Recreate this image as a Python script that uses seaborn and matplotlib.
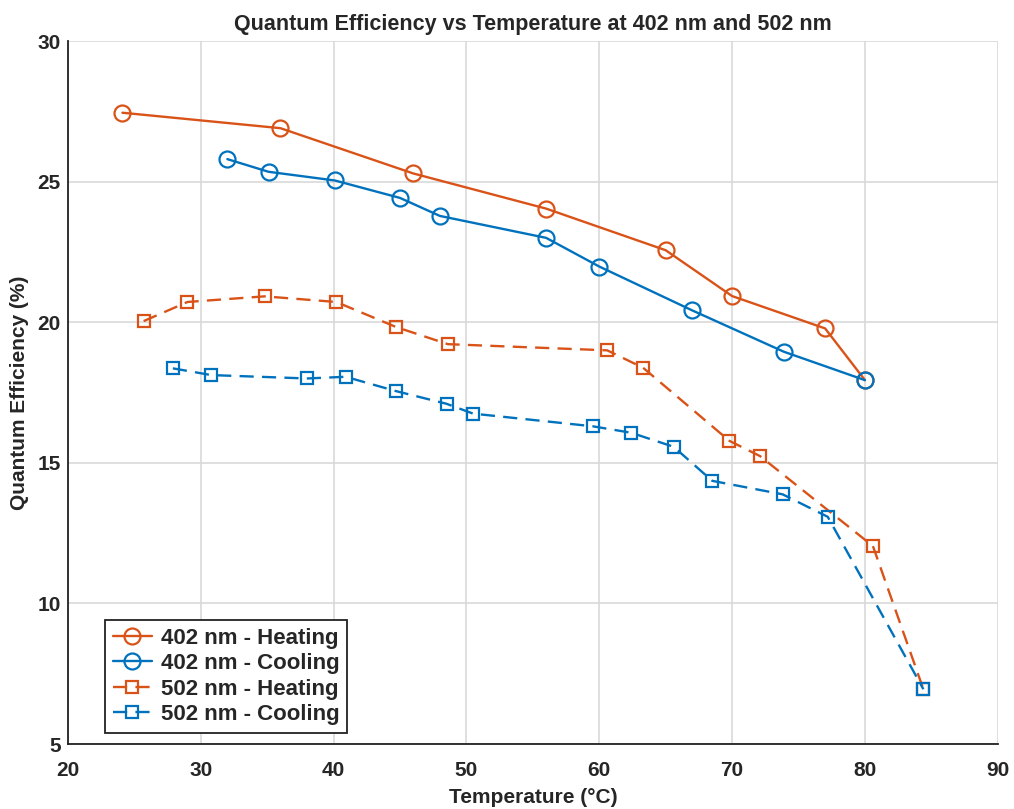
import pandas as pd
import seaborn as sns
import matplotlib.pyplot as plt

# data
temp_402_heat = [24.1, 36.0, 46.0, 56.0, 65.0, 70.0, 77.0, 80.0]
qe_402_heat = [27.45, 26.9, 25.29, 24.04, 22.56, 20.93, 19.78, 17.94]

temp_402_cool = [32.0, 35.1, 40.1, 45.0, 48.0, 56.0, 60.0, 67.0, 73.9, 80.0]
qe_402_cool = [25.8, 25.35, 25.04, 24.42, 23.78, 23.0, 21.98, 20.42, 18.95, 17.94]

temp_502_heat = [25.7, 29.0, 34.8, 40.2, 44.7, 48.6, 60.6, 63.3, 69.8, 72.1, 80.6, 84.4]
qe_502_heat = [20.04, 20.72, 20.92, 20.72, 19.83, 19.22, 19.0, 18.38, 15.78, 15.24, 12.04, 6.95]

temp_502_cool = [27.9, 30.8, 38.0, 40.9, 44.7, 48.5, 50.5, 59.5, 62.4, 65.6, 68.5, 73.8, 77.2, 84.4]
qe_502_cool = [18.36, 18.12, 18.0, 18.06, 17.55, 17.1, 16.75, 16.3, 16.07, 15.57, 14.36, 13.88, 13.08, 6.95]

series_names = ["402 nm - Heating", "402 nm - Cooling", "502 nm - Heating", "502 nm - Cooling"]
series_x = [temp_402_heat, temp_402_cool, temp_502_heat, temp_502_cool]
series_y = [qe_402_heat, qe_402_cool, qe_502_heat, qe_502_cool]

orange = "#D95319"
blue = "#0072BD"
colors = [orange, blue, orange, blue]
markers = ["o", "o", "s", "s"]
msizes = [11.5, 11.5, 9, 9]
dashed = [False, False, True, True]

sns.set_style("white")
plt.rcParams["font.family"] = ["Liberation Sans", "DejaVu Sans"]
plt.rcParams["font.weight"] = "bold"

fig = plt.figure(figsize=(10.14, 8.09), dpi=100)
ax = fig.add_axes([0.067, 0.0803, 0.917, 0.869])

for name, xs, ys, c, m, ms, d in zip(series_names, series_x, series_y, colors, markers, msizes, dashed):
    df = pd.DataFrame({"Temperature": xs, "QE": ys})
    sns.lineplot(data=df, x="Temperature", y="QE", ax=ax, color=c, marker=m,
                 markersize=ms, markerfacecolor="none", markeredgecolor=c,
                 markeredgewidth=1.6, linewidth=1.7, label=name, sort=False)
    if d:
        ax.lines[-1].set_dashes((6, 3.5))

ax.set_xlim(20, 90)
ax.set_ylim(5, 30)
ax.set_xticks(range(20, 91, 10))
ax.set_yticks(range(5, 31, 5))
ax.grid(True, color="#d9d9d9", linewidth=1.2)
ax.set_axisbelow(True)
for s in ["top", "right"]:
    ax.spines[s].set_visible(False)
for s in ["left", "bottom"]:
    ax.spines[s].set_color("#222222")
    ax.spines[s].set_linewidth(1.3)
ax.tick_params(direction="in", length=7, width=1.3, labelsize=15, color="#222222")
ax.tick_params(axis="x", pad=12)
ax.tick_params(axis="y", pad=5)
for lab in ax.get_xticklabels() + ax.get_yticklabels():
    lab.set_fontweight("bold")

ax.set_xlabel("Temperature (°C)", fontsize=15, fontweight="bold", labelpad=6)
ax.set_ylabel("Quantum Efficiency (%)", fontsize=15, fontweight="bold", labelpad=6)
ax.set_title("Quantum Efficiency vs Temperature at 402 nm and 502 nm", fontsize=15.5, fontweight="bold", pad=8)

leg = ax.legend(loc="lower left", bbox_to_anchor=(0.04, 0.016), borderaxespad=0,
                fancybox=False, edgecolor="#222222", framealpha=1, fontsize=16,
                handlelength=1.75, handletextpad=0.4, labelspacing=0.2, borderpad=0.35)
leg.get_frame().set_linewidth(1.3)
for t in leg.get_texts():
    t.set_fontweight("bold")

fig.savefig("out.png", dpi=100)
